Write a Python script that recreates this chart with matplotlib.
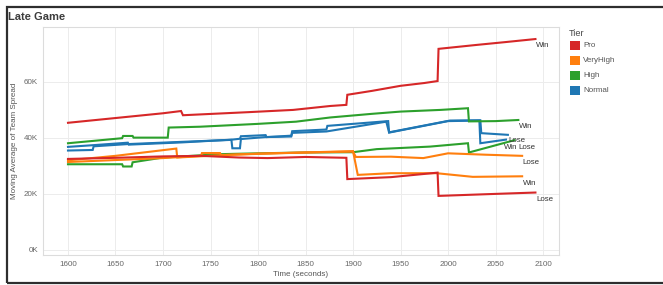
import matplotlib
matplotlib.use('Agg')
import matplotlib.pyplot as plt
from matplotlib.patches import Rectangle
from matplotlib.ticker import FuncFormatter

plt.rcParams['font.family'] = ['Liberation Sans', 'DejaVu Sans']

# ---------------- data (values in thousands) ----------------
tiers = ["Pro", "VeryHigh", "High", "Normal"]
tier_colors = ["#d62728", "#ff7f0e", "#2ca02c", "#1f77b4"]

pro_win_t = [1600, 1650, 1700, 1719, 1721, 1790, 1837, 1876, 1893, 1894, 1920, 1950, 1975, 1989, 1990, 2030, 2060, 2092]
pro_win_v = [45.4, 47.1, 48.8, 49.6, 48.1, 49.2, 50.0, 51.4, 51.8, 55.4, 56.8, 58.6, 59.6, 60.3, 71.8, 73.2, 74.2, 75.3]

pro_lose_t = [1600, 1650, 1700, 1740, 1780, 1810, 1850, 1893, 1894, 1940, 1989, 1990, 2040, 2092]
pro_lose_v = [32.5, 32.9, 33.4, 33.6, 33.0, 32.8, 33.2, 32.9, 25.3, 26.0, 27.6, 19.3, 19.9, 20.5]

vh_lose_t = [1600, 1650, 1714, 1715, 1760, 1800, 1850, 1900, 1903, 1940, 1974, 2000, 2040, 2078]
vh_lose_v = [32.0, 33.6, 36.2, 33.0, 33.8, 34.4, 34.8, 35.1, 33.2, 33.3, 32.8, 34.5, 34.0, 33.6]

vh_win_t = [1600, 1700, 1740, 1741, 1760, 1761, 1800, 1850, 1900, 1905, 1940, 1988, 2026, 2078]
vh_win_v = [31.4, 32.8, 33.6, 34.6, 34.6, 33.9, 34.3, 34.8, 35.3, 26.8, 27.4, 27.4, 26.1, 26.3]

high_win_t = [1600, 1657, 1658, 1668, 1669, 1705, 1706, 1739, 1799, 1840, 1876, 1920, 1950, 1992, 2021, 2022, 2050, 2074]
high_win_v = [38.1, 39.9, 40.7, 40.7, 40.1, 40.1, 43.7, 44.0, 45.0, 45.8, 47.3, 48.6, 49.4, 50.0, 50.6, 45.9, 46.0, 46.4]

high_lose_t = [1600, 1657, 1658, 1667, 1668, 1700, 1760, 1800, 1850, 1900, 1925, 1981, 2021, 2022, 2070]
high_lose_v = [30.6, 30.6, 29.8, 29.8, 31.3, 33.0, 34.2, 34.5, 34.8, 34.9, 36.0, 36.9, 38.1, 34.8, 39.2]

normal_lose_t = [1600, 1626, 1663, 1664, 1720, 1773, 1781, 1782, 1808, 1809, 1835, 1836, 1872, 1873, 1937, 1938, 2002, 2034, 2035, 2063]
normal_lose_v = [36.8, 37.4, 38.3, 37.6, 38.4, 39.4, 39.7, 40.6, 41.0, 40.3, 40.8, 42.4, 43.0, 44.3, 46.0, 42.0, 46.2, 46.3, 41.7, 41.1]

normal_win_t = [1600, 1626, 1627, 1663, 1720, 1772, 1773, 1781, 1782, 1808, 1835, 1836, 1872, 1935, 1938, 2000, 2033, 2034, 2061]
normal_win_v = [35.5, 35.7, 37.0, 37.8, 38.6, 39.3, 36.3, 36.3, 39.6, 40.3, 40.5, 41.8, 42.3, 45.8, 41.9, 46.0, 46.2, 38.1, 39.4]

series = [
    ("Normal", "Lose", normal_lose_t, normal_lose_v),
    ("Normal", "Win", normal_win_t, normal_win_v),
    ("High", "Win", high_win_t, high_win_v),
    ("High", "Lose", high_lose_t, high_lose_v),
    ("VeryHigh", "Lose", vh_lose_t, vh_lose_v),
    ("VeryHigh", "Win", vh_win_t, vh_win_v),
    ("Pro", "Win", pro_win_t, pro_win_v),
    ("Pro", "Lose", pro_lose_t, pro_lose_v),
]

x_ticks = [1600, 1650, 1700, 1750, 1800, 1850, 1900, 1950, 2000, 2050, 2100]
y_ticks = [0, 20, 40, 60]

# end-label offsets (points) for the crowded cluster near 2065
label_offsets = {("Normal", "Lose"): (0.5, -4.3), ("Normal", "Win"): (-1.5, -6.0),
                 ("High", "Lose"): (3.0, -5.6)}

# ---------------- figure ----------------
W, H = 663, 285
fig = plt.figure(figsize=(W / 100, H / 100), dpi=100)
fig.patch.set_facecolor("white")

fig.patches.append(Rectangle((7.3 / W, 1 - 282.7 / H), 700 / W, (282.7 - 7.3) / H,
                             transform=fig.transFigure, fill=False,
                             edgecolor="#2e2e2e", linewidth=1.6, zorder=0))

fig.text(8 / W, 1 - 16.5 / H, "Late Game", fontsize=8.0, fontweight="bold",
         color="#3c3c3c", ha="left", va="center")

ax = fig.add_axes([43 / W, 1 - 255 / H, (559 - 43) / W, (255 - 27) / H])
color_of = dict(zip(tiers, tier_colors))

for tier, outcome, t, v in series:
    ax.plot(t, v, color=color_of[tier], linewidth=1.5, solid_joinstyle="miter", zorder=3)
    off = label_offsets.get((tier, outcome), (0.5, -5.0))
    ax.annotate(outcome, xy=(t[-1], v[-1]), xytext=off, textcoords="offset points",
                ha="left", va="center", fontsize=5.7, color="#333333", zorder=4)

ax.set_xlim(1573.7, 2116.8)
ax.set_ylim(-1.8, 79.6)
ax.set_xticks(x_ticks)
ax.set_yticks(y_ticks)
ax.yaxis.set_major_formatter(FuncFormatter(lambda v, p: f"{int(v)}K"))
ax.grid(True, color="#ececec", linewidth=0.7, zorder=0)
ax.set_axisbelow(True)
for s in ax.spines.values():
    s.set_color("#dcdcdc")
    s.set_linewidth(0.8)
ax.tick_params(axis="both", length=0, labelsize=5.8, labelcolor="#666666")
ax.tick_params(axis="x", pad=4.5)
ax.tick_params(axis="y", pad=3.5)

ax.set_xlabel("Time (seconds)", fontsize=5.8, color="#555555")
ax.set_ylabel("Moving Average of Team Spread", fontsize=5.8, color="#555555")
ax.xaxis.set_label_coords(0.5, (255 - 271.0) / 228)
ax.yaxis.set_label_coords((17.5 - 43) / 516, 0.5)

# legend
fig.text(569 / W, 1 - 33 / H, "Tier", fontsize=6.6, color="#444444", ha="left", va="center")
for i, (tier, col) in enumerate(zip(tiers, tier_colors)):
    yc = 45.5 + 15 * i
    fig.patches.append(Rectangle((570 / W, 1 - (yc + 4.8) / H), 9.5 / W, 9.5 / H,
                                 transform=fig.transFigure, facecolor=col, edgecolor="none"))
    fig.text(583 / W, 1 - yc / H, tier, fontsize=5.8, color="#555555", ha="left", va="center")

fig.savefig("out.png", dpi=100, facecolor="white")
